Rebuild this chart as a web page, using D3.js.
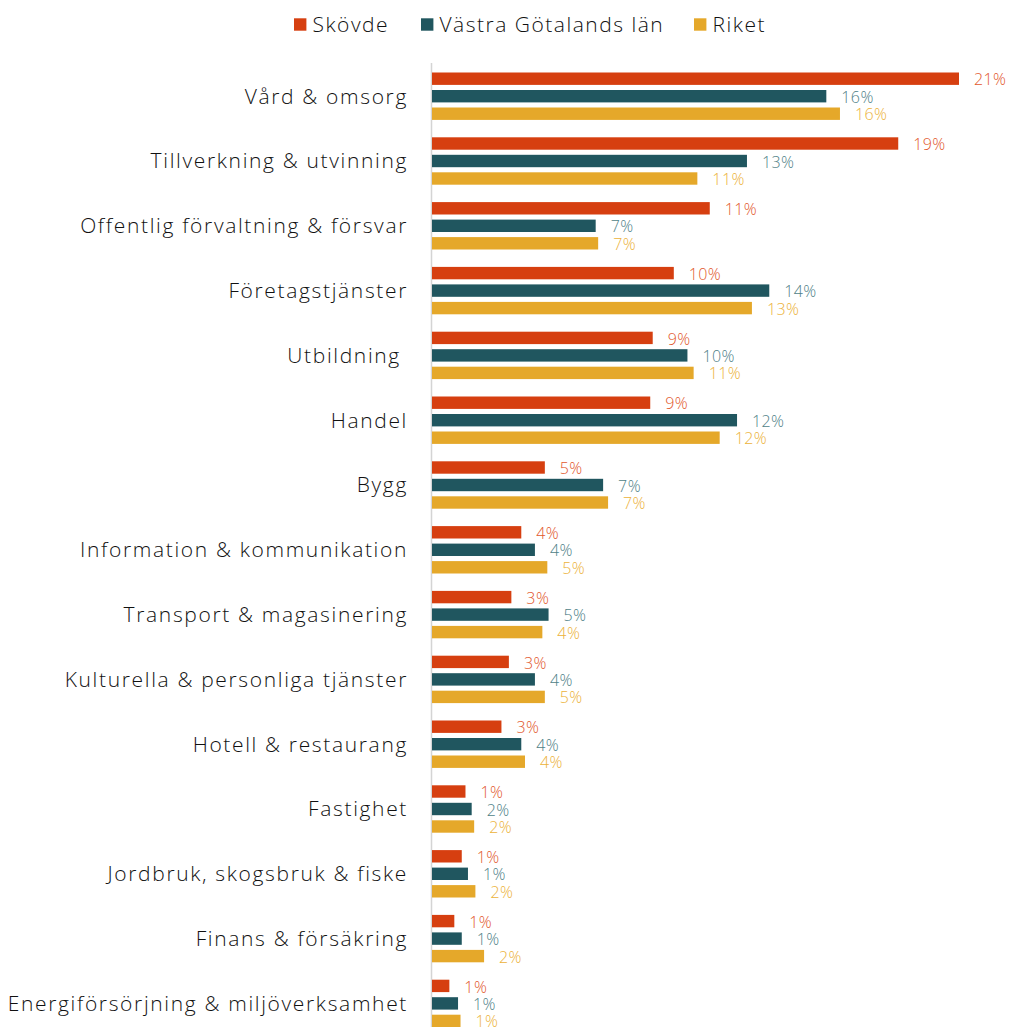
<!DOCTYPE html>
<html>
<head>
<meta charset="utf-8">
<script src="https://cdn.jsdelivr.net/npm/d3@7"></script>
<style>
  html, body { margin: 0; padding: 0; background: #fff; }
  svg { display: block; font-family: "Open Sans", sans-serif; }
</style>
</head>
<body>
<svg width="1010" height="1027"></svg>
<script>
// categories (top to bottom)
var categories = [
    "Vård & omsorg",
    "Tillverkning & utvinning",
    "Offentlig förvaltning & försvar",
    "Företagstjänster",
    "Utbildning ",
    "Handel",
    "Bygg",
    "Information & kommunikation",
    "Transport & magasinering",
    "Kulturella & personliga tjänster",
    "Hotell & restaurang",
    "Fastighet",
    "Jordbruk, skogsbruk & fiske",
    "Finans & försäkring",
    "Energiförsörjning & miljöverksamhet"
];

var seriesNames = ["Skövde", "Västra Götalands län", "Riket"];

// share of employed, percent
var skovde = [21.25, 18.8, 11.2, 9.75, 8.9, 8.8, 4.55, 3.6, 3.2, 3.1, 2.8, 1.35, 1.2, 0.9, 0.7];
var vastraGotaland = [15.9, 12.7, 6.6, 13.6, 10.3, 12.3, 6.9, 4.15, 4.7, 4.15, 3.6, 1.6, 1.45, 1.2, 1.05];
var riket = [16.45, 10.7, 6.7, 12.9, 10.55, 11.6, 7.1, 4.65, 4.45, 4.55, 3.75, 1.7, 1.75, 2.1, 1.15];

var barColors = ["#d63f10", "#20565f", "#e5a82a"];
var labelColors = ["#e2572c", "#4f7f87", "#ecb23a"];

var svg = d3.select('svg');
var values = [skovde, vastraGotaland, riket];

var x = d3.scaleLinear()
    .domain([0, 23])
    .range([432, 432 + 23 * 24.8]);

var y = d3.scaleBand()
    .domain(categories)
    .range([63.8, 63.8 + categories.length * 64.8]);

var ySub = d3.scalePoint()
    .domain(d3.range(seriesNames.length))
    .range([-17.5, 17.5]);

var barH = 12.4;

// legend
var legendX = [294, 421, 694];
var legend = svg.append('g')
    .selectAll('g')
    .data(seriesNames)
    .enter()
    .append('g')
    .attr('transform', function(d, i) { return 'translate(' + legendX[i] + ',24.5)'; });

legend.append('rect')
    .attr('x', 0)
    .attr('y', -6.2)
    .attr('width', 12.4)
    .attr('height', 12.4)
    .attr('fill', function(d, i) { return barColors[i]; });

legend.append('text')
    .attr('x', 18.5)
    .attr('dy', '0.35em')
    .style('font-size', '21px')
    .style('font-weight', 300)
    .style('letter-spacing', '1.5px')
    .attr('fill', '#111')
    .text(function(d) { return d; });

// axis line
svg.append('line')
    .attr('x1', x(0) - 0.5)
    .attr('x2', x(0) - 0.5)
    .attr('y1', 63)
    .attr('y2', 1027)
    .attr('stroke', '#d4d4d4')
    .attr('stroke-width', 1.5);

// category labels
svg.append('g')
    .selectAll('text')
    .data(categories)
    .enter()
    .append('text')
    .attr('x', 408)
    .attr('y', function(d) { return y(d) + y.bandwidth() / 2; })
    .attr('dy', '0.35em')
    .attr('text-anchor', 'end')
    .style('font-size', '21px')
    .style('font-weight', 300)
    .style('letter-spacing', '1.65px')
    .style('white-space', 'pre')
    .attr('fill', '#111')
    .text(function(d) { return d; });

// bars + value labels
var groups = svg.append('g')
    .selectAll('g')
    .data(categories)
    .enter()
    .append('g')
    .attr('transform', function(d) { return 'translate(0,' + (y(d) + y.bandwidth() / 2) + ')'; });

groups.selectAll('rect')
    .data(function(d, ci) { return values.map(function(s, si) { return {s: si, v: s[ci]}; }); })
    .enter()
    .append('rect')
    .attr('x', x(0))
    .attr('y', function(d) { return ySub(d.s) - barH / 2; })
    .attr('width', function(d) { return x(d.v) - x(0); })
    .attr('height', barH)
    .attr('fill', function(d) { return barColors[d.s]; });

groups.selectAll('text')
    .data(function(d, ci) { return values.map(function(s, si) { return {s: si, v: s[ci]}; }); })
    .enter()
    .append('text')
    .attr('x', function(d) { return x(d.v) + 15; })
    .attr('y', function(d) { return ySub(d.s) + 1; })
    .attr('dy', '0.35em')
    .style('font-size', '16px')
    .style('font-weight', 300)
    .style('letter-spacing', '0.4px')
    .attr('fill', function(d) { return labelColors[d.s]; })
    .text(function(d) { return Math.round(d.v) + '%'; });
</script>
</body>
</html>
